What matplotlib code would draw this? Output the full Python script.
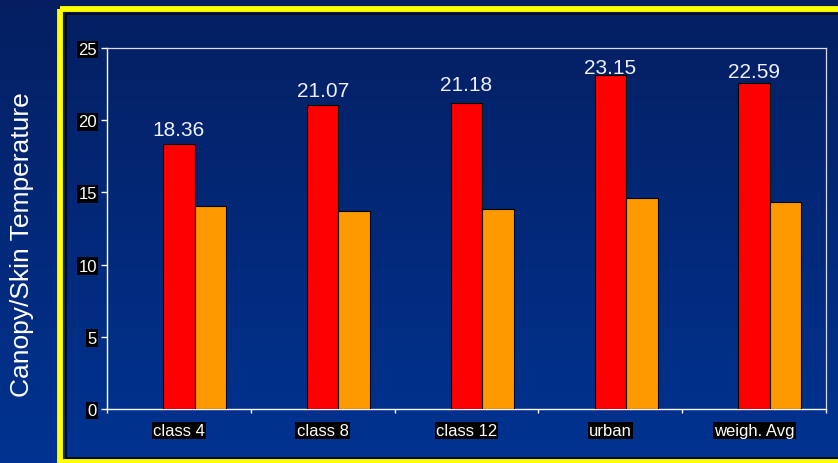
import numpy as np
import matplotlib
matplotlib.use("Agg")
import matplotlib.pyplot as plt
from matplotlib.patches import Rectangle

plt.rcParams['font.family'] = ['Liberation Sans', 'DejaVu Sans']

# Data
categories = ["class 4", "class 8", "class 12", "urban", "weigh. Avg"]
canopy_temp = [18.36, 21.07, 21.18, 23.15, 22.59]
skin_temp = [14.08, 13.69, 13.87, 14.58, 14.33]
y_ticks = [0, 5, 10, 15, 20, 25]

# Vertical gap (pixels) between each red bar top and its value label baseline
label_gap_px = [9, 8.5, 13, 1.5, 6]

W, H = 838, 464
fig = plt.figure(figsize=(W / 100, H / 100), dpi=100)

# Slide background: vertical navy gradient plus yellow frame
bg = fig.add_axes([0, 0, 1, 1], zorder=-10)
bg.set_xlim(0, W)
bg.set_ylim(H, 0)
bg.axis("off")
top = np.array([0.02, 0.12, 0.38])
bottom = np.array([0.0, 0.20, 0.57])
t = np.linspace(0, 1, 256)[:, None]
grad = (top[None, :] * (1 - t) + bottom[None, :] * t)[:, None, :]
bg.imshow(grad, extent=[0, W, H, 0], aspect="auto", interpolation="bilinear")
bg.add_patch(Rectangle((60, 9.8), 820, 453.2, fill=False, edgecolor="#ffff00",
                       linewidth=4.2))
bg.add_patch(Rectangle((66, 15), 820, 444, fill=False, edgecolor="black",
                       linewidth=1.1))

# Chart
ax = fig.add_axes([107 / W, (H - 410) / H, (826 - 107) / W, (410 - 49) / H])
ax.set_facecolor("none")

x = np.arange(len(categories))
w = 0.219
ax.bar(x, canopy_temp, width=w, color="#ff0000", edgecolor="black",
       linewidth=0.8, zorder=3)
ax.bar(x + w, skin_temp, width=w, color="#ff9900", edgecolor="black",
       linewidth=0.8, zorder=3)

for xi, v, g in zip(x, canopy_temp, label_gap_px):
    ax.annotate(f"{v:.2f}", (xi, v), xytext=(0, g), textcoords="offset pixels",
                ha="center", va="baseline", fontsize=15, color="#eef0ff",
                zorder=4)

ax.set_xlim(-0.5, len(categories) - 0.5)
ax.set_ylim(0, 25)
ax.set_yticks(y_ticks)
ax.set_xticks(x)
ax.set_xticklabels(categories)
ax.set_xticks(np.arange(len(categories) + 1) - 0.5, minor=True)

label_box = dict(boxstyle="square,pad=0.08", facecolor="black", edgecolor="none")
ax.tick_params(axis="x", which="major", length=0, pad=10, labelsize=12,
               labelcolor="white")
ax.tick_params(axis="x", which="minor", length=3, width=1, color="white",
               direction="out")
ax.tick_params(axis="y", length=4.3, width=1, color="white", pad=3,
               labelsize=12, labelcolor="white")
for lab in ax.get_xticklabels() + ax.get_yticklabels():
    lab.set_bbox(label_box)

for side in ["left", "bottom"]:
    ax.spines[side].set_color("white")
    ax.spines[side].set_linewidth(1.0)
for side in ["top", "right"]:
    ax.spines[side].set_color("#d8dce8")
    ax.spines[side].set_linewidth(0.9)

fig.text(22 / W, 1 - 245 / H, "Canopy/Skin Temperature", rotation=90,
         ha="center", va="center", fontsize=19, color="white")

fig.savefig("out.png", dpi=100)
